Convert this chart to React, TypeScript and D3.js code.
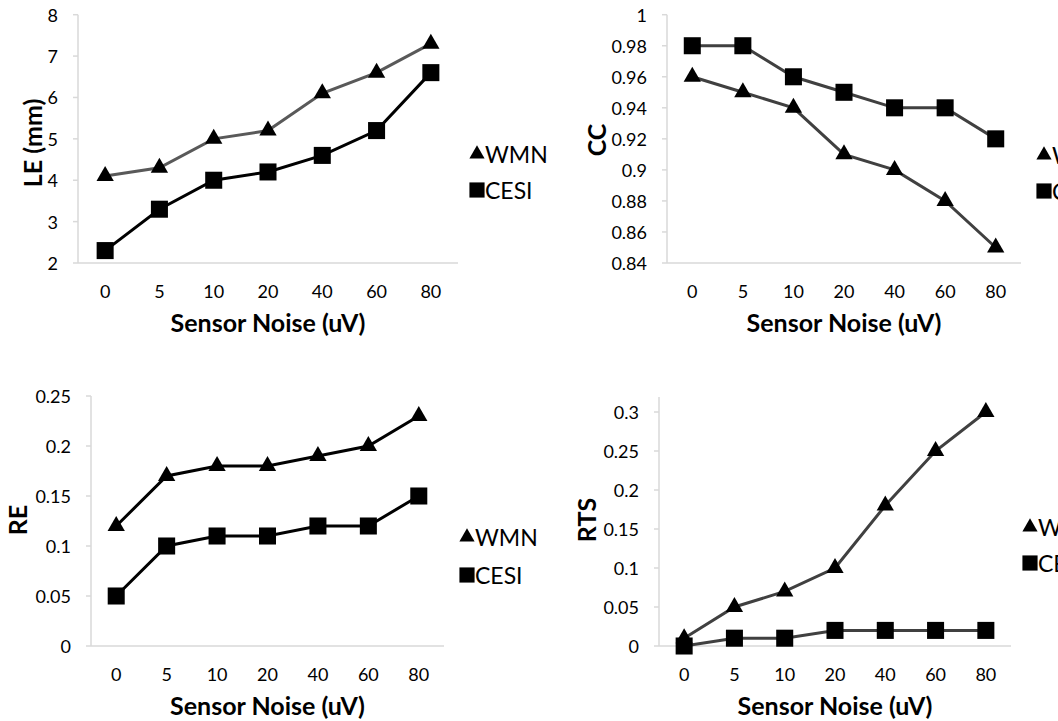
import React from "react";
import * as d3 from "d3";

const categories = ["0", "5", "10", "20", "40", "60", "80"];
const seriesNames = ["WMN", "CESI"];

const leWMN = [4.1, 4.3, 5.0, 5.2, 6.1, 6.6, 7.3];
const leCESI = [2.3, 3.3, 4.0, 4.2, 4.6, 5.2, 6.6];
const ccWMN = [0.96, 0.95, 0.94, 0.91, 0.9, 0.88, 0.85];
const ccCESI = [0.98, 0.98, 0.96, 0.95, 0.94, 0.94, 0.92];
const reWMN = [0.12, 0.17, 0.18, 0.18, 0.19, 0.2, 0.23];
const reCESI = [0.05, 0.1, 0.11, 0.11, 0.12, 0.12, 0.15];
const rtsWMN = [0.01, 0.05, 0.07, 0.1, 0.18, 0.25, 0.3];
const rtsCESI = [0, 0.01, 0.01, 0.02, 0.02, 0.02, 0.02];

const leTicks = [2, 3, 4, 5, 6, 7, 8];
const ccTicks = [0.84, 0.86, 0.88, 0.9, 0.92, 0.94, 0.96, 0.98, 1];
const reTicks = [0, 0.05, 0.1, 0.15, 0.2, 0.25];
const rtsTicks = [0, 0.05, 0.1, 0.15, 0.2, 0.25, 0.3];

const FONT = "Lato, 'Open Sans', sans-serif";
const AXIS_COLOR = "#d9d9d9";

type PanelProps = {
  yLabel: string;
  wmn: number[];
  cesi: number[];
  ticks: number[];
  domain: [number, number];
  axisX: number;
  rightX: number;
  yMinPx: number;
  yMaxPx: number;
  axisTopPx: number;
  yTitleX: number;
  yTitleY: number;
  legendX: number;
  legendY: [number, number];
  wmnColor: string;
  cesiColor: string;
};

function Panel(p: PanelProps) {
  const x = d3
    .scaleBand<string>()
    .domain(categories)
    .range([p.axisX, p.rightX])
    .padding(0);
  const cx = (c: string) => (x(c) as number) + x.bandwidth() / 2;
  const y = d3.scaleLinear().domain(p.domain).range([p.yMinPx, p.yMaxPx]);
  const line = d3
    .line<number>()
    .x((_, i) => cx(categories[i]))
    .y((v) => y(v));
  const tri = d3.symbol().type(d3.symbolTriangle).size(130)() as string;
  const sq = d3.symbol().type(d3.symbolSquare).size(290)() as string;
  const triL = d3.symbol().type(d3.symbolTriangle).size(100)() as string;
  const sqL = d3.symbol().type(d3.symbolSquare).size(230)() as string;
  const xMid = (p.axisX + p.rightX) / 2;
  return (
    <g fontFamily={FONT}>
      <line x1={p.axisX} x2={p.axisX} y1={p.axisTopPx} y2={p.yMinPx} stroke={AXIS_COLOR} strokeWidth={1.5} />
      <line x1={p.axisX} x2={p.rightX} y1={p.yMinPx} y2={p.yMinPx} stroke={AXIS_COLOR} strokeWidth={1.5} />
      {p.ticks.map((t) => (
        <g key={t}>
          <line x1={p.axisX - 5} x2={p.axisX} y1={y(t)} y2={y(t)} stroke={AXIS_COLOR} strokeWidth={1.5} />
          <text x={p.axisX - 20} y={y(t)} textAnchor="end" dominantBaseline="central" fontSize={18} fill="#000">
            {String(t)}
          </text>
        </g>
      ))}
      {categories.map((c) => (
        <text key={c} x={cx(c)} y={p.yMinPx + 28} textAnchor="middle" dominantBaseline="central" fontSize={18} fill="#000">
          {c}
        </text>
      ))}
      <text x={xMid} y={p.yMinPx + 59} textAnchor="middle" dominantBaseline="central" fontSize={25} fontWeight="bold" fill="#000">
        Sensor Noise (uV)
      </text>
      <text
        transform={`translate(${p.yTitleX},${p.yTitleY}) rotate(-90)`}
        textAnchor="middle"
        dominantBaseline="central"
        fontSize={25}
        fontWeight="bold"
        fill="#000"
      >
        {p.yLabel}
      </text>
      <path d={line(p.wmn) as string} fill="none" stroke={p.wmnColor} strokeWidth={3} />
      <path d={line(p.cesi) as string} fill="none" stroke={p.cesiColor} strokeWidth={3} />
      {p.wmn.map((v, i) => (
        <path key={"w" + i} d={tri} transform={`translate(${cx(categories[i])},${y(v)})`} fill="#000" />
      ))}
      {p.cesi.map((v, i) => (
        <path key={"c" + i} d={sq} transform={`translate(${cx(categories[i])},${y(v)})`} fill="#000" />
      ))}
      <path d={triL} transform={`translate(${p.legendX},${p.legendY[0]})`} fill="#000" />
      <path d={sqL} transform={`translate(${p.legendX},${p.legendY[1]})`} fill="#000" />
      <text x={p.legendX + 8} y={p.legendY[0]} dominantBaseline="central" fontSize={23} fill="#000">
        {seriesNames[0]}
      </text>
      <text x={p.legendX + 8} y={p.legendY[1]} dominantBaseline="central" fontSize={23} fill="#000">
        {seriesNames[1]}
      </text>
    </g>
  );
}

export default function App() {
  return (
    <svg
      width={1058}
      height={721}
      style={{ position: "absolute", left: 0, top: 0, background: "#fff" }}
    >
      <rect width={1058} height={721} fill="#fff" />
      <Panel
        yLabel="LE (mm)"
        wmn={leWMN}
        cesi={leCESI}
        ticks={leTicks}
        domain={[2, 8]}
        axisX={78}
        rightX={458}
        yMinPx={263}
        yMaxPx={14.7}
        axisTopPx={14.7}
        yTitleX={32}
        yTitleY={143}
        legendX={477}
        legendY={[154, 190]}
        wmnColor="#595959"
        cesiColor="#000"
      />
      <Panel
        yLabel="CC"
        wmn={ccWMN}
        cesi={ccCESI}
        ticks={ccTicks}
        domain={[0.84, 1]}
        axisX={667}
        rightX={1021}
        yMinPx={263}
        yMaxPx={14.7}
        axisTopPx={14.7}
        yTitleX={596}
        yTitleY={140}
        legendX={1044}
        legendY={[155, 191]}
        wmnColor="#404040"
        cesiColor="#404040"
      />
      <Panel
        yLabel="RE"
        wmn={reWMN}
        cesi={reCESI}
        ticks={reTicks}
        domain={[0, 0.25]}
        axisX={91}
        rightX={444}
        yMinPx={646}
        yMaxPx={396}
        axisTopPx={396}
        yTitleX={17}
        yTitleY={520}
        legendX={467}
        legendY={[537, 575]}
        wmnColor="#000"
        cesiColor="#000"
      />
      <Panel
        yLabel="RTS"
        wmn={rtsWMN}
        cesi={rtsCESI}
        ticks={rtsTicks}
        domain={[0, 0.3]}
        axisX={659}
        rightX={1011}
        yMinPx={646}
        yMaxPx={412}
        axisTopPx={397}
        yTitleX={586}
        yTitleY={520}
        legendX={1030}
        legendY={[527, 563]}
        wmnColor="#404040"
        cesiColor="#404040"
      />
    </svg>
  );
}
